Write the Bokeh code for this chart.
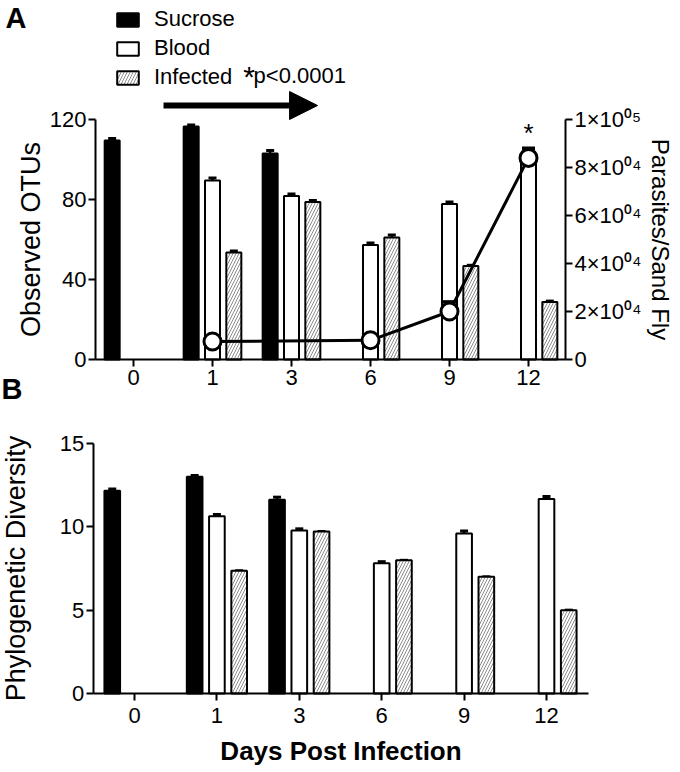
from bokeh.plotting import figure
from bokeh.models import (Range1d, LinearAxis, FixedTicker, Label, Arrow, NormalHead,
                          Legend, LegendItem, ColumnDataSource)
from bokeh.embed import file_html
from bokeh.resources import INLINE

FONT = "Liberation Sans"

# ---------------- data ----------------
days = ["0", "1", "3", "6", "9", "12"]

sucrose_otus = [109.5, 116.5, 103.0, None, None, None]
sucrose_otus_err = [1.0, 0.8, 1.5, None, None, None]
blood_otus = [None, 89.5, 81.7, 57.3, 77.8, 101.0]
blood_otus_err = [None, 1.2, 1.0, 1.0, 1.0, 1.0]
infected_otus = [None, 53.5, 78.7, 61.0, 46.7, 28.7]
infected_otus_err = [None, 0.8, 0.8, 1.3, 0.4, 0.5]

parasite_days = ["1", "6", "9", "12"]
parasites = [7500, 8000, 20000, 84000]
parasites_err = [500, 500, 4000, 4000]

sucrose_pd = [12.17, 13.0, 11.63, None, None, None]
sucrose_pd_err = [0.1, 0.08, 0.15, None, None, None]
blood_pd = [None, 10.64, 9.78, 7.81, 9.6, 11.67]
blood_pd_err = [None, 0.1, 0.1, 0.1, 0.15, 0.15]
infected_pd = [None, 7.37, 9.72, 7.99, 7.0, 5.0]
infected_pd_err = [None, 0, 0, 0, 0, 0]

otu_ticks = [0, 40, 80, 120]
pd_ticks = [0, 5, 10, 15]
par_ticks = [0, 20000, 40000, 60000, 80000, 100000]
par_tick_labels = ["0", "2×10⁰⁴", "4×10⁰⁴", "6×10⁰⁴", "8×10⁰⁴", "1×10⁰⁵"]

OFFSETS = {"sucrose": -0.27, "blood": 0.0, "infected": 0.27}
BAR_W = 0.19

# panel extents (data units)
A_X = (-0.481, 5.468)
B_X = (-0.5, 5.51)
OTU_MAX, PAR_MAX, PD_MAX = 120, 100000, 15
PAR_PER_OTU = PAR_MAX / OTU_MAX


def series(vals, errs, offset):
    xs, tops, ups = [], [], []
    for i, (v, e) in enumerate(zip(vals, errs)):
        if v is None:
            continue
        xs.append(i + offset)
        tops.append(v)
        ups.append(v + (e or 0))
    return ColumnDataSource(dict(x=xs, top=tops, up=ups))


def style_axis(ax, tick_size="22px", standoff=2):
    ax.axis_line_width = 2
    ax.axis_line_color = "black"
    ax.major_tick_line_width = 2
    ax.major_tick_line_color = "black"
    ax.major_tick_out = 7
    ax.major_tick_in = 0
    ax.minor_tick_line_color = None
    ax.major_label_text_font = FONT
    ax.major_label_text_font_size = tick_size
    ax.major_label_text_color = "black"
    ax.major_label_standoff = standoff
    ax.axis_label_text_font = FONT
    ax.axis_label_text_font_style = "normal"
    ax.axis_label_text_color = "black"
    ax.axis_label_text_font_size = "27px"


def draw_bars(p, vals, errs, kind, cap=8, **rng):
    src = series(vals, errs, OFFSETS[kind])
    p.segment(x0="x", y0="top", x1="x", y1="up", source=src, line_color="black",
              line_width=2.5, **rng)
    p.scatter(x="x", y="up", source=src, marker="dash", size=cap, line_color="black",
              line_width=3, **rng)
    kw = dict(x="x", top="top", bottom=0, width=BAR_W, source=src, line_color="black",
              line_width=2, **rng)
    if kind == "sucrose":
        r = p.vbar(fill_color="black", **kw)
    elif kind == "blood":
        r = p.vbar(fill_color="white", **kw)
    else:
        r = p.vbar(fill_color="white", hatch_pattern="/", hatch_color="#8c8c8c",
                   hatch_scale=6, hatch_weight=1, **kw)
    return r


def label(text, x, y, size, bold=False, align="left", **kw):
    return Label(x=x, y=y, text=text, text_font=FONT, text_font_size=size,
                 text_font_style="bold" if bold else "normal", text_color="black",
                 text_align=align, text_baseline="middle", **kw)


idx = {d: i for i, d in enumerate(days)}
x_overrides = {i: d for i, d in enumerate(days)}

W, H = 676, 766
p = figure(width=W, height=H, x_range=Range1d(-1.6835, 6.8734),
           y_range=Range1d(-203.5, 179.5), x_axis_type=None, y_axis_type=None,
           output_backend="svg", toolbar_location=None,
           min_border_left=0, min_border_right=0, min_border_top=0, min_border_bottom=0)
p.extra_y_ranges = {"par": Range1d(-203.5 * PAR_PER_OTU, 179.5 * PAR_PER_OTU),
                    "pd": Range1d(-4.38, 41.58)}
p.extra_x_ranges = {"xb": Range1d(-1.6262, 6.5777)}
p.xgrid.visible = False
p.ygrid.visible = False
p.outline_line_color = None
p.background_fill_color = "white"
p.border_fill_color = "white"

# ---------------- panel A ----------------
r_s = draw_bars(p, sucrose_otus, sucrose_otus_err, "sucrose")
r_b = draw_bars(p, blood_otus, blood_otus_err, "blood")
r_i = draw_bars(p, infected_otus, infected_otus_err, "infected")

par_src = ColumnDataSource(dict(
    x=[idx[d] for d in parasite_days], y=parasites,
    up=[v + e for v, e in zip(parasites, parasites_err)]))
p.segment(x0="x", y0="y", x1="x", y1="up", source=par_src, y_range_name="par",
          line_color="black", line_width=3)
p.scatter(x="x", y="up", source=par_src, y_range_name="par", marker="dash", size=13,
          line_color="black", line_width=3.5)
p.line(x="x", y="y", source=par_src, y_range_name="par", line_color="black", line_width=3)
p.scatter(x="x", y="y", source=par_src, y_range_name="par", marker="circle", size=17,
          fill_color="white", line_color="black", line_width=3)

ax_a = LinearAxis(ticker=FixedTicker(ticks=list(range(len(days)))),
                  major_label_overrides=x_overrides, fixed_location=0, bounds=A_X)
style_axis(ax_a, standoff=3)
p.add_layout(ax_a, "below")

ay_a = LinearAxis(ticker=FixedTicker(ticks=otu_ticks), fixed_location=A_X[0],
                  bounds=(0, OTU_MAX), axis_label="Observed OTUs", axis_label_standoff=1)
style_axis(ay_a)
p.add_layout(ay_a, "left")

rax = LinearAxis(y_range_name="par", ticker=FixedTicker(ticks=par_ticks),
                 major_label_overrides={t: l for t, l in zip(par_ticks, par_tick_labels)},
                 axis_label="Parasites/Sand Fly", fixed_location=A_X[1],
                 bounds=(0, PAR_MAX), axis_label_standoff=2)
style_axis(rax, tick_size="22px")
rax.axis_label_text_font_size = "24px"
p.add_layout(rax, "right")

legend = Legend(items=[LegendItem(label="Sucrose", renderers=[r_s]),
                       LegendItem(label="Blood", renderers=[r_b]),
                       LegendItem(label="Infected", renderers=[r_i])],
                location=(114, 676), glyph_width=27, glyph_height=17, label_standoff=13,
                spacing=3, padding=0, margin=0, border_line_color=None,
                background_fill_alpha=0, label_text_font=FONT, label_text_font_size="22px",
                label_text_color="black")
p.add_layout(legend)

p.add_layout(label("*", 1.39, 141.5, "30px"))
p.add_layout(label("p<0.0001", 1.52, 141.8, "22px"))
p.add_layout(Arrow(x_start=0.38, y_start=127, x_end=2.33, y_end=127, line_width=6,
                   line_color="black",
                   end=NormalHead(size=28, fill_color="black", line_color="black")))
p.add_layout(label("*", idx["12"], 113.5, "26px", align="center"))
p.add_layout(label("A", -1.62, 170.75, "29px", bold=True))

# ---------------- panel B ----------------
rngb = dict(x_range_name="xb", y_range_name="pd")
draw_bars(p, sucrose_pd, sucrose_pd_err, "sucrose", **rngb)
draw_bars(p, blood_pd, blood_pd_err, "blood", **rngb)
draw_bars(p, infected_pd, infected_pd_err, "infected", **rngb)

ax_b = LinearAxis(ticker=FixedTicker(ticks=list(range(len(days)))),
                  major_label_overrides=x_overrides, fixed_location=0, bounds=B_X,
                  axis_label="Days Post Infection", axis_label_standoff=10, **rngb)
style_axis(ax_b, standoff=7)
ax_b.axis_label_text_font_size = "26px"
ax_b.axis_label_text_font_style = "bold"
p.add_layout(ax_b, "below")

ay_b = LinearAxis(ticker=FixedTicker(ticks=pd_ticks), fixed_location=B_X[0],
                  bounds=(0, PD_MAX), axis_label="Phylogenetic Diversity",
                  axis_label_standoff=26, **rngb)
style_axis(ay_b)
p.add_layout(ay_b, "left")

p.add_layout(label("B", -1.614, 18.27, "29px", bold=True, **rngb))

open("out.html", "w").write(file_html(p, INLINE))
